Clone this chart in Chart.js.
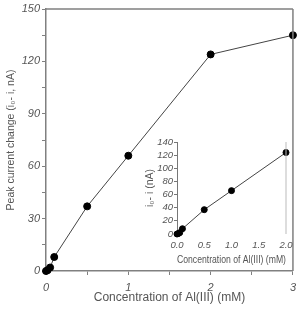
<!DOCTYPE html>
<html>
<head>
<meta charset="utf-8">
<script src="https://cdn.jsdelivr.net/npm/chart.js@4"></script>
<style>
  body { margin: 0; background: #fff; }
  #wrap { position: relative; width: 302px; height: 314px; }
  #mainChart { position: absolute; left: 0; top: 0; }
  #insetChart { position: absolute; left: 140px; top: 130px; }
</style>
</head>
<body>
<div id="wrap">
  <canvas id="mainChart" width="302" height="314"></canvas>
  <canvas id="insetChart" width="162" height="140"></canvas>
</div>
<script>
// main plot data
const concentration = [0, 0.02, 0.05, 0.1, 0.5, 1, 2, 3];
const peakChange = [0, 0.5, 2, 8, 37, 66, 124, 135];
// inset data (0 - 2 mM)
const insetConc = [0, 0.02, 0.05, 0.1, 0.5, 1, 2];
const insetChange = [0, 0.5, 2, 8, 37, 66, 124];

const mainXTicks = ['0', '1', '2', '3'];
const mainYTicks = ['0', '30', '60', '90', '120', '150'];

const tickFont = { family: 'Liberation Sans, Arial, sans-serif', style: 'italic', size: 11 };
const gray = '#555';

// draws the top/right frame lines
const frame = {
  id: 'frame',
  afterDraw(chart, args, opts) {
    const { ctx, chartArea: a } = chart;
    ctx.save();
    ctx.strokeStyle = opts.color;
    ctx.lineWidth = opts.width;
    ctx.beginPath();
    if (opts.top) { ctx.moveTo(a.left, a.top); ctx.lineTo(a.right, a.top); }
    ctx.moveTo(a.right, a.top);
    ctx.lineTo(a.right, a.bottom);
    ctx.stroke();
    ctx.restore();
  }
};

new Chart(document.getElementById('mainChart'), {
  type: 'scatter',
  data: {
    datasets: [{
      data: concentration.map((c, i) => ({ x: c, y: peakChange[i] })),
      showLine: true,
      clip: false,
      borderColor: '#444',
      borderWidth: 1,
      pointRadius: 3.5,
      pointBackgroundColor: '#000',
      pointBorderColor: '#000'
    }]
  },
  options: {
    responsive: false,
    animation: false,
    layout: { padding: { top: 9, right: 6, left: 0, bottom: 0 } },
    plugins: {
      legend: { display: false },
      tooltip: { enabled: false },
      frame: { color: '#808080', width: 1.5, top: true }
    },
    scales: {
      x: {
        type: 'linear',
        min: 0, max: 3,
        afterFit: s => { s.height = 43; },
        ticks: {
          stepSize: 0.5,
          color: gray,
          font: tickFont,
          padding: 6,
          maxRotation: 0,
          autoSkip: false,
          callback: v => Number.isInteger(v) ? mainXTicks[v] : ''
        },
        grid: { drawOnChartArea: false, tickLength: 4, color: '#808080' },
        border: { color: '#808080', width: 1.5 },
        title: {
          display: true,
          text: 'Concentration of Al(III) (mM)',
          color: gray,
          font: { family: 'Liberation Sans, Arial, sans-serif', size: 12 },
          padding: { top: 0, bottom: 9 }
        }
      },
      y: {
        min: 0, max: 150,
        afterFit: s => { s.width = 46; },
        ticks: {
          stepSize: 15,
          color: gray,
          font: tickFont,
          padding: 2,
          autoSkip: false,
          callback: v => v % 30 === 0 ? mainYTicks[v / 30] : ''
        },
        grid: { drawOnChartArea: false, tickLength: 4, color: '#808080' },
        border: { color: '#808080', width: 1.5 },
        title: {
          display: true,
          text: 'Peak current change (i\u2080- i, nA)',
          color: gray,
          font: { family: 'Liberation Sans, Arial, sans-serif', size: 10.5 },
          padding: { top: 5, bottom: 0 }
        }
      }
    }
  },
  plugins: [frame]
});

const insetTickFont = { family: 'Liberation Sans, Arial, sans-serif', style: 'italic', size: 9.5 };
const insetTitleFont = { family: 'Liberation Sans, Arial, sans-serif', size: 10.5 };

new Chart(document.getElementById('insetChart'), {
  type: 'scatter',
  data: {
    datasets: [{
      data: insetConc.map((c, i) => ({ x: c, y: insetChange[i] })),
      showLine: true,
      clip: false,
      borderColor: '#444',
      borderWidth: 1,
      pointRadius: 3,
      pointBackgroundColor: '#000',
      pointBorderColor: '#000'
    }]
  },
  options: {
    responsive: false,
    animation: false,
    layout: { padding: { top: 12, right: 16, left: 0, bottom: 0 } },
    plugins: {
      legend: { display: false },
      tooltip: { enabled: false },
      frame: { color: '#bbb', width: 1, top: false }
    },
    scales: {
      x: {
        type: 'linear',
        min: 0, max: 2,
        afterFit: s => { s.height = 36; },
        ticks: {
          stepSize: 0.5,
          color: gray,
          font: insetTickFont,
          padding: 6,
          maxRotation: 0,
          autoSkip: false,
          callback: v => v.toFixed(1)
        },
        grid: { display: false, drawTicks: false },
        border: { display: false },
        title: {
          display: true,
          text: 'Concentration of Al(III) (mM)',
          color: gray,
          font: insetTitleFont,
          padding: { top: 0, bottom: 4 }
        }
      },
      y: {
        min: 0, max: 140,
        afterFit: s => { s.width = 37; },
        ticks: {
          stepSize: 20,
          color: gray,
          font: insetTickFont,
          padding: 1,
          autoSkip: false
        },
        grid: { drawOnChartArea: false, tickLength: 3, color: '#777' },
        border: { color: '#777', width: 1 },
        title: {
          display: true,
          text: 'i\u2080- i (nA)',
          color: gray,
          font: insetTitleFont,
          padding: { top: 4, bottom: 0 }
        }
      }
    }
  },
  plugins: [frame]
});
</script>
</body>
</html>
